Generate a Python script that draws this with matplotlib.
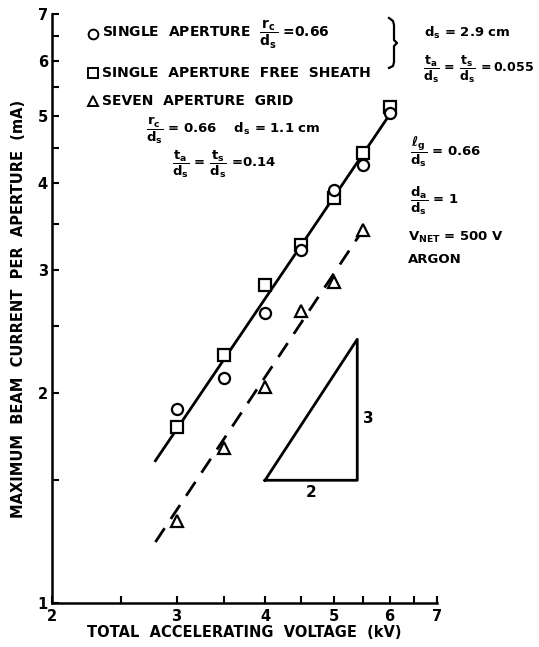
import matplotlib
matplotlib.use("Agg")
import matplotlib.pyplot as plt
from matplotlib.ticker import FixedLocator, NullFormatter

plt.rcParams['font.family'] = ['DejaVu Sans']
plt.rcParams['font.weight'] = 'bold'
plt.rcParams['mathtext.fontset'] = 'dejavusans'
plt.rcParams['mathtext.default'] = 'bf'

# Measured beam current per aperture (mA) vs total accelerating voltage (kV)
volts = [3.0, 3.5, 4.0, 4.5, 5.0, 5.5, 6.0]
single_ap = [1.90, 2.10, 2.61, 3.21, 3.91, 4.25, 5.05]
single_free = [1.79, 2.27, 2.86, 3.26, 3.81, 4.42, 5.15]
grid_volts = [3.0, 3.5, 4.0, 4.5, 5.0, 5.5]
seven_grid = [1.31, 1.67, 2.04, 2.62, 2.89, 3.43]

# 3/2 power law fits
fit_single_v = [2.8, 6.0]
fit_single_i = [1.60, 5.02]
fit_grid_v = [2.8, 5.5]
fit_grid_i = [1.223, 3.43]

# slope triangle (rise 3 over run 2 on log-log axes)
tri_v = [4.0, 5.4, 5.4, 4.0]
tri_i = [1.5, 1.5, 2.39, 1.5]

x_ticks = [2, 3, 4, 5, 6, 7]
x_minor = [2.5, 3.5, 4.5, 5.5, 6.5]
y_ticks = [1, 2, 3, 4, 5, 6, 7]
y_minor = [1.5, 2.5, 3.5, 4.5, 5.5, 6.5]

W, H = 539, 647
fig = plt.figure(figsize=(W / 100, H / 100), dpi=100)
ax = fig.add_axes([52 / W, 1 - 603 / H, (437 - 52) / W, (603 - 14) / H])
ax.set_xscale('log')
ax.set_yscale('log')
ax.set_xlim(2, 7)
ax.set_ylim(1, 7)

for s in ['top', 'right']:
    ax.spines[s].set_visible(False)
for s in ['left', 'bottom']:
    ax.spines[s].set_linewidth(1.8)

ax.xaxis.set_major_locator(FixedLocator(x_ticks))
ax.xaxis.set_minor_locator(FixedLocator(x_minor))
ax.yaxis.set_major_locator(FixedLocator(y_ticks))
ax.yaxis.set_minor_locator(FixedLocator(y_minor))
ax.set_xticklabels([str(t) for t in x_ticks])
ax.set_yticklabels([str(t) for t in y_ticks])
ax.xaxis.set_minor_formatter(NullFormatter())
ax.yaxis.set_minor_formatter(NullFormatter())
ax.tick_params(which='both', direction='in', length=5, width=1.5, labelsize=10.5)
ax.tick_params(axis='x', pad=4)
ax.tick_params(axis='y', pad=3)

ax.plot(fit_single_v, fit_single_i, color='black', lw=2)
ax.plot(fit_grid_v, fit_grid_i, color='black', lw=2, dashes=(6, 4))
ax.plot(tri_v, tri_i, color='black', lw=2)

mk = dict(linestyle='none', markerfacecolor='white', markeredgecolor='black',
          markeredgewidth=1.6, markersize=8, clip_on=False)
ax.plot(volts, single_free, marker='s', **mk)
ax.plot(volts, single_ap, marker='o', **mk)
ax.plot(grid_volts, seven_grid, marker='^', **mk)

ax.text(5.5, 1.84, '3', fontsize=11, fontweight='bold', va='center', ha='left')
ax.text(4.65, 1.475, '2', fontsize=11, fontweight='bold', va='top', ha='center')

ax.set_xlabel('TOTAL  ACCELERATING  VOLTAGE  (kV)', fontsize=10.5, fontweight='bold', labelpad=1)
ax.set_ylabel('MAXIMUM  BEAM  CURRENT  PER  APERTURE  (mA)', fontsize=10.5,
              fontweight='bold', labelpad=8)


def px(x, y):
    return x / W, 1 - y / H


def ftext(x, y, s, size=10, **kw):
    fig.text(*px(x, y), s, fontsize=size, fontweight='bold', va='center', ha='left', **kw)


# key symbols
for y, m in [(34, 'o'), (73, 's'), (101, '^')]:
    fig.lines.append(plt.Line2D([93 / W], [1 - y / H], marker=m, linestyle='none',
                                markerfacecolor='white', markeredgecolor='black',
                                markeredgewidth=1.4, markersize=7,
                                transform=fig.transFigure))

ftext(102, 34, r'SINGLE  APERTURE  $\dfrac{r_c}{d_s}$ =0.66')
ftext(102, 73, 'SINGLE  APERTURE  FREE  SHEATH')
ftext(102, 101, 'SEVEN  APERTURE  GRID')
ftext(146, 131, r'$\dfrac{r_c}{d_s}$ = 0.66    d$_s$ = 1.1 cm', size=9.5)
ftext(172, 164, r'$\dfrac{t_a}{d_s}$ = $\dfrac{t_s}{d_s}$ =0.14', size=9.5)

# bracket grouping the two single-aperture entries
bx = [389, 393, 394, 394, 397, 394, 394, 393, 389]
by = [18, 21, 25, 40, 43, 46, 62, 66, 68]
fig.lines.append(plt.Line2D([x / W for x in bx], [1 - y / H for y in by],
                            color='black', lw=1.6, transform=fig.transFigure))

ftext(424, 33, r'd$_s$ = 2.9 cm', size=9.5)
ftext(423, 69, r'$\dfrac{t_a}{d_s}\,=\,\dfrac{t_s}{d_s}\,=$0.055', size=9)
ftext(410, 152, r'$\dfrac{\ell_g}{d_s}$ = 0.66', size=9.5)
ftext(410, 201, r'$\dfrac{d_a}{d_s}$ = 1', size=9.5)
ftext(408, 237, r'V$_{NET}$ = 500 V', size=9.5)
ftext(408, 259, 'ARGON', size=9.5)

fig.savefig('out.png', dpi=100)
